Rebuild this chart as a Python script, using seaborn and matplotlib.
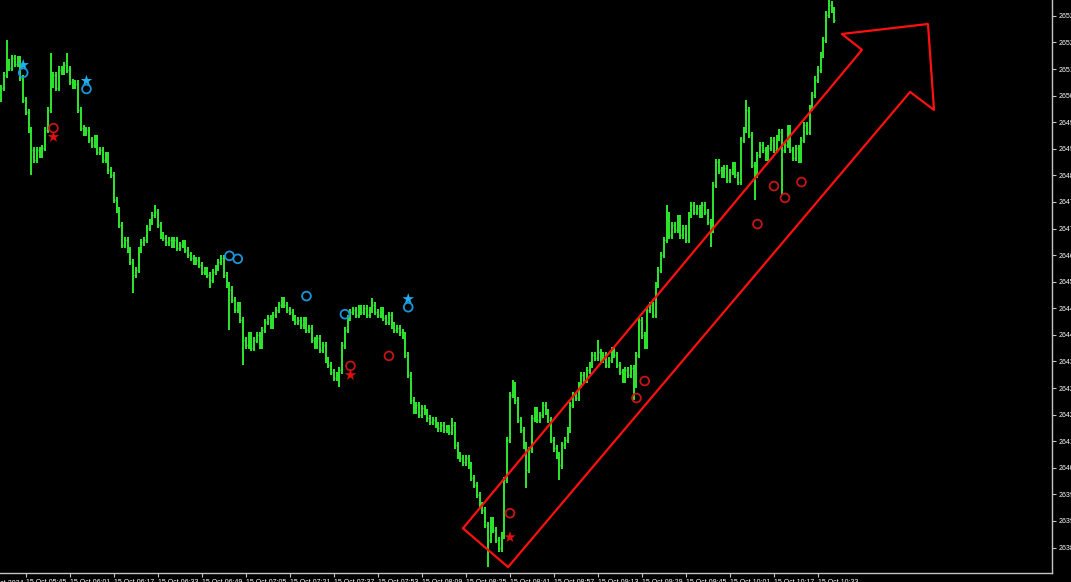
import matplotlib
matplotlib.use("Agg")
import numpy as np
import pandas as pd
import seaborn as sns
import matplotlib.pyplot as plt

# M1 closes, one per minute starting 15 Oct 05:36
first_open = 2650.60
closes = [
    2650.89, 2651.24, 2651.59, 2651.43, 2651.70, 2651.54, 2651.65, 2651.16, 2650.56, 2650.24,
    2649.75, 2649.21, 2648.94, 2649.21, 2649.07, 2649.26, 2649.75, 2650.29, 2650.97, 2651.24,
    2650.89, 2651.38, 2651.32, 2651.51, 2651.38, 2651.05, 2650.94, 2651.00, 2650.29, 2649.80,
    2649.67, 2649.75, 2649.48, 2649.34, 2649.53, 2649.15, 2649.21, 2648.94, 2649.07, 2648.66,
    2648.53, 2647.85, 2647.58, 2647.18, 2646.63, 2646.77, 2646.50, 2646.17, 2645.82, 2645.96,
    2646.50, 2646.71, 2646.77, 2647.09, 2647.26, 2647.45, 2647.53, 2647.18, 2646.90, 2646.82,
    2646.71, 2646.77, 2646.63, 2646.77, 2646.55, 2646.63, 2646.69, 2646.50, 2646.36, 2646.28,
    2646.17, 2646.23, 2646.09, 2645.90, 2645.96, 2645.82, 2645.69, 2645.90, 2646.01, 2646.17,
    2646.28, 2645.82, 2645.55, 2645.42, 2645.14, 2644.87, 2645.01, 2644.60, 2644.06, 2643.92,
    2644.19, 2643.84, 2644.06, 2644.19, 2643.92, 2644.33, 2644.55, 2644.66, 2644.46, 2644.74,
    2644.87, 2645.01, 2645.14, 2645.01, 2644.87, 2644.82, 2644.66, 2644.55, 2644.60, 2644.46,
    2644.60, 2644.33, 2644.38, 2644.06, 2643.92, 2644.11, 2643.79, 2643.92, 2643.52, 2643.38,
    2643.19, 2643.03, 2643.11, 2643.24, 2643.92, 2644.33, 2644.66, 2644.82, 2644.87, 2644.74,
    2644.93, 2644.82, 2644.93, 2644.74, 2644.87, 2645.01, 2644.82, 2644.74, 2644.87, 2644.66,
    2644.55, 2644.74, 2644.46, 2644.33, 2644.38, 2644.27, 2644.19, 2643.65, 2643.11, 2642.43,
    2642.16, 2642.30, 2642.03, 2642.22, 2642.11, 2641.94, 2641.84, 2641.89, 2641.76, 2641.67,
    2641.76, 2641.62, 2641.67, 2641.57, 2641.76, 2641.21, 2640.94, 2640.86, 2640.75, 2640.86,
    2640.67, 2640.32, 2640.13, 2639.86, 2639.59, 2639.45, 2639.05, 2638.64, 2639.18, 2638.91,
    2638.64, 2638.42, 2638.77, 2640.27, 2641.35, 2642.57, 2642.84, 2642.43, 2641.89, 2641.62,
    2641.21, 2640.54, 2641.08, 2641.94, 2642.16, 2641.89, 2642.03, 2642.30, 2642.11, 2641.89,
    2641.35, 2641.13, 2640.94, 2640.67, 2641.21, 2641.35, 2641.62, 2642.30, 2642.57, 2642.49,
    2642.84, 2643.11, 2642.98, 2643.24, 2643.38, 2643.65, 2643.57, 2643.73, 2643.52, 2643.65,
    2643.38, 2643.52, 2643.79, 2643.65, 2643.38, 2643.19, 2642.98, 2643.24, 2643.11, 2643.30,
    2642.84, 2643.65, 2644.60, 2644.19, 2643.92, 2644.87, 2645.01, 2644.74, 2645.55, 2645.96,
    2646.36, 2646.77, 2647.45, 2646.90, 2647.18, 2647.04, 2647.36, 2646.90, 2647.09, 2646.77,
    2647.45, 2647.72, 2647.53, 2647.64, 2647.45, 2647.72, 2647.53, 2647.26, 2647.04, 2648.26,
    2648.88, 2648.66, 2648.53, 2648.72, 2648.40, 2648.61, 2648.80, 2648.53, 2648.34, 2649.48,
    2649.75, 2650.29, 2649.61, 2648.80, 2648.53, 2649.07, 2649.34, 2649.21, 2648.99, 2649.26,
    2649.48, 2649.21, 2649.53, 2649.69, 2649.21, 2649.34, 2649.80, 2649.21, 2648.99, 2649.26,
    2648.94, 2649.48, 2649.88, 2649.69, 2650.34, 2650.70, 2651.11, 2651.38, 2651.78, 2652.19,
    2652.87, 2653.14, 2653.00, 2652.73,
]

# long wicks: bar -> (high, low); None keeps the body end
spikes = {
    2: (2652.19, None), 11: (None, 2648.53), 18: (2651.84, None), 24: (2651.84, None),
    48: (None, 2645.33), 56: (2647.72, None), 76: (None, 2645.47), 83: (None, 2644.33),
    88: (None, 2643.38), 102: (2645.22, None), 123: (None, 2642.78), 135: (2645.20, None),
    164: (2641.94, None), 177: (None, 2637.90), 186: (2642.98, None), 191: (None, 2640.05),
    203: (None, 2640.27), 217: (2644.06, None), 230: (None, 2642.43), 242: (2647.72, None),
    258: (None, 2646.58), 271: (2650.56, None), 274: (None, 2647.85), 284: (None, 2647.99),
    301: (2653.30, None),
}

# signal markers (bar, price)
blue_star_bar = [8, 31, 148]
blue_star_px = [2651.51, 2651.08, 2645.17]
blue_ring_bar = [8, 31, 83, 86, 111, 125, 148]
blue_ring_px = [2651.30, 2650.86, 2646.34, 2646.26, 2645.25, 2644.76, 2644.95]
red_ring_bar = [19, 127, 141, 185, 231, 234, 275, 281, 285, 291]
red_ring_px = [2649.80, 2643.36, 2643.63, 2639.37, 2642.49, 2642.95, 2647.20, 2648.23, 2647.91, 2648.34]
red_star_bar = [19, 127, 185]
red_star_px = [2649.56, 2643.11, 2638.72]

# hand-drawn arrow outline (bar, price)
arrow_bar = [167.9, 313.0, 305.7, 337.0, 339.2, 330.5, 184.3, 167.9]
arrow_px = [2638.96, 2651.92, 2652.35, 2652.62, 2650.29, 2650.78, 2637.91, 2638.96]

# axis labels
price_ticks = [2652.84, 2652.12, 2651.40, 2650.68, 2649.96, 2649.24, 2648.52, 2647.80,
               2647.08, 2646.36, 2645.64, 2644.92, 2644.20, 2643.48, 2642.76, 2642.04,
               2641.32, 2640.60, 2639.88, 2639.16, 2638.44]
time_labels = ["05:45", "06:01", "06:17", "06:33", "06:49", "07:05", "07:21", "07:37",
               "07:53", "08:09", "08:25", "08:41", "08:57", "09:13", "09:29", "09:45",
               "10:01", "10:17", "10:33"]
start_minute = 5 * 60 + 36

BAR_GREEN = "#2ee82e"
AXIS_GREY = "#c4c4c4"

sns.set_style("dark", {"axes.facecolor": "black", "figure.facecolor": "black",
                       "axes.grid": False})
plt.rcParams["font.family"] = ["Liberation Sans", "DejaVu Sans"]

# Build OHLC table
df = pd.DataFrame({"close": closes})
df["bar"] = np.arange(len(df))
df["open"] = [first_open] + closes[:-1]
pad = 0.09
df["high"] = df[["open", "close"]].max(axis=1) + pad
df["low"] = df[["open", "close"]].min(axis=1) - pad
for b, (h, l) in spikes.items():
    if h is not None:
        df.loc[b, "high"] = h
    if l is not None:
        df.loc[b, "low"] = l

fig = plt.figure(figsize=(10.71, 5.82), dpi=100, facecolor="black")
ax = fig.add_axes([0, 9 / 582, 1052 / 1071, 573 / 582])
ax.set_facecolor("black")

# bars: high-low line, open tick left, close tick right
ax.vlines(df["bar"], df["low"], df["high"], color=BAR_GREEN, lw=1.4)
ax.hlines(df["open"], df["bar"] - 0.35, df["bar"], color=BAR_GREEN, lw=1.0)
ax.hlines(df["close"], df["bar"], df["bar"] + 0.35, color=BAR_GREEN, lw=1.0)

# markers
sns.scatterplot(x=blue_star_bar, y=blue_star_px, marker="*", s=75, color="#1fb0f0",
                edgecolor="none", ax=ax, zorder=5)
sns.scatterplot(x=red_star_bar, y=red_star_px, marker="*", s=75, color="#e01010",
                edgecolor="none", ax=ax, zorder=5)
ax.scatter(blue_ring_bar, blue_ring_px, s=40, facecolors="none", edgecolors="#1b95d8",
           linewidths=1.3, zorder=5)
ax.scatter(red_ring_bar, red_ring_px, s=40, facecolors="none", edgecolors="#c81414",
           linewidths=1.3, zorder=5)

# arrow
ax.plot(arrow_bar, arrow_px, color="#ff1010", lw=1.6, zorder=6)

ax.set_xlim(-0.44, 382.1)
ax.set_ylim(2637.75, 2653.27)

# axes frame
for side in ["left", "top"]:
    ax.spines[side].set_visible(False)
for side in ["right", "bottom"]:
    ax.spines[side].set_visible(True)
    ax.spines[side].set_color(AXIS_GREY)
    ax.spines[side].set_linewidth(1.0)

ax.yaxis.tick_right()
ax.set_yticks(price_ticks)
ax.set_yticklabels([f"{p:.2f}" for p in price_ticks])
ax.tick_params(axis="y", right=True, left=False, labelright=True, labelleft=False,
               colors=AXIS_GREY, labelcolor="white", length=3, width=0.8,
               labelsize=5, pad=1.5)

tick_bars = [int(t[:2]) * 60 + int(t[3:]) - start_minute for t in time_labels]
ax.set_xticks(tick_bars)
ax.set_xticklabels([f"15 Oct {t}" for t in time_labels], ha="left")
ax.tick_params(axis="x", bottom=True, colors=AXIS_GREY, labelcolor="white",
               length=3, width=0.8, labelsize=5, pad=1.5)
ax.text(-5.9, -0.013, "15 Oct 2024", transform=ax.get_xaxis_transform(),
        ha="left", va="top", fontsize=5, color="white", clip_on=False)

ax.set_xlabel("")
ax.set_ylabel("")

fig.savefig("out.png", dpi=100, facecolor="black")
